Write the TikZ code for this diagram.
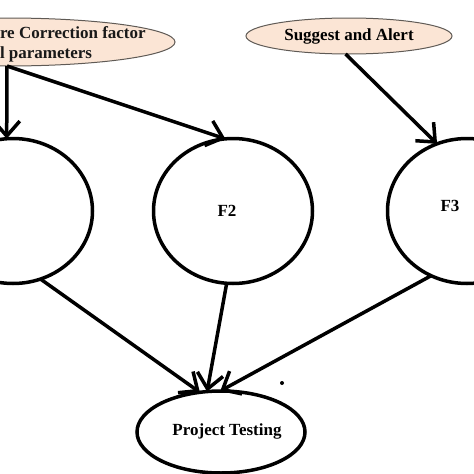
\documentclass[tikz,border=0pt]{standalone}
\usepackage{fontspec}
\setmainfont{Liberation Serif}
\usetikzlibrary{arrows.meta,shapes.geometric}
\definecolor{peach}{RGB}{251,229,213}
\definecolor{rim}{RGB}{95,90,85}
\begin{document}
\begin{tikzpicture}[x=1pt,y=-1pt,
    every node/.style={font=\bfseries\fontsize{17}{20}\selectfont,inner sep=0pt,outer sep=0pt},
    bubble/.style={ellipse,draw=rim,line width=1pt,fill=peach},
    factor/.style={ellipse,draw,line width=3.5pt,minimum width=159pt,minimum height=145pt},
    flow/.style={line width=3.5pt,-{Straight Barb[length=15pt,width=26pt]}}]
\useasboundingbox (0,0) rectangle (474,474);
\clip (0,0) rectangle (474,474);
\node[bubble,minimum width=336pt,minimum height=48pt] (corr) at (7,42) {};
    \node[align=left,anchor=west,text=black!90] (corrtxt) at (0,44) {re Correction factor\\l parameters};
    \node[bubble,minimum width=206pt,minimum height=36pt] (sugg) at (349,36) {Suggest and Alert};

    \node[factor] (f1) at (13,211) {};
    \node[factor] (f2) at (233,211) {};
    \node[factor] (f3) at (467,211) {};
    \node (f2txt) at (227,211) {F2};
    \node (f3txt) at (450,206) {F3};

    \node[ellipse,draw,line width=3.5pt,minimum width=168pt,minimum height=82pt] (pt) at (221,432) {};
    \node (pttxt) at (227,431) {Project Testing};
    \node[circle,fill,minimum size=4pt] (dot) at (282,383) {};

    \path[flow] (corr.south) edge (f1.95);
    \path[flow] (corr.south) edge (f2.96);
    \path[flow] (sugg.259) edge (f3.114);
    \path[flow] (f1.292) edge (pt.118);
    \path[flow] (f2.265) edge (pt.109);
    \path[flow] (f3.241) edge (pt.91);
\end{tikzpicture}
\end{document}
